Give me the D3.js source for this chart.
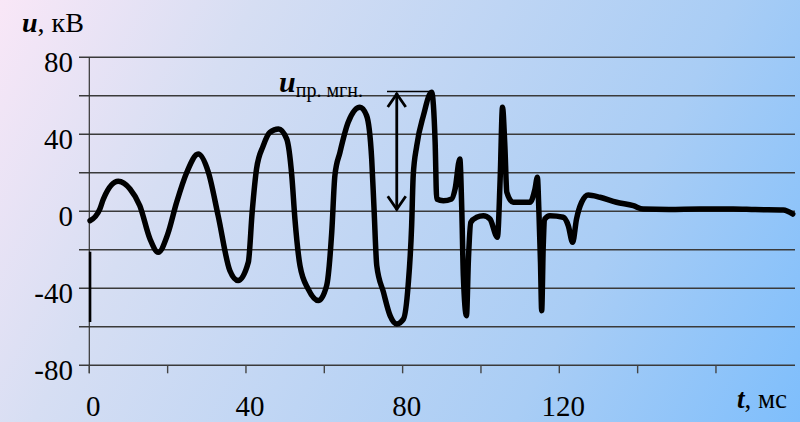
<!DOCTYPE html>
<html>
<head>
<meta charset="utf-8">
<script src="https://cdn.jsdelivr.net/npm/d3@7"></script>
<style>
  html, body { margin: 0; padding: 0; }
  svg { display: block; }
</style>
</head>
<body>
<svg id="chart" width="800" height="422" font-family="'Liberation Serif', 'Times New Roman', Tinos, 'DejaVu Serif', 'Noto Serif', serif"></svg>
<script>
// time, ms
const tValues = [0.2, 2.7, 3.6, 7.4, 10.4, 12.9, 15.5, 17.6, 20.0, 22.3, 24.9, 27.8, 30.4, 32.9, 35.9, 38.0,
  40.6, 41.6, 42.7, 44.4, 46.1, 48.3, 50.4, 51.7, 52.5, 53.8, 55.9, 58.5, 60.6, 61.9, 62.7, 64.0, 66.1,
  69.1, 70.8, 72.1, 72.7, 73.4, 75.1, 76.8, 78.5, 80.2, 81.4, 82.3, 82.7, 83.6, 85.3, 87.4, 88.3, 88.7,
  90.4, 92.5, 93.4, 94.6, 95.1, 95.5, 96.3, 96.8, 97.4, 98.9, 100.6, 102.3, 104.2, 104.9, 105.5, 106.1,
  106.6, 108.2, 112.5, 113.8, 114.4, 114.8, 115.2, 115.5, 115.9, 116.3, 117.6, 121.0, 122.3, 123.4,
  124.4, 125.7, 127.4, 130.4, 134.6, 138.9, 141.4, 148.0, 155.9, 164.4, 170.0, 177.2, 179.6];
// voltage, kV
const uValues = [-4.9, 1.2, 6.4, 15.6, 11.6, 2.9, -14.4, -21.3, -12.0, 4.7, 20.3, 29.8, 20.3, -2.3, -30.9, -36.0,
  -26.5, 0.0, 22.0, 34.0, 41.0, 42.8, 37.6, 18.5, -4.0, -28.3, -40.4, -46.4, -38.6, -10.9, 18.5, 30.6, 46.2,
  54.0, 49.7, 27.2, 1.2, -28.3, -42.0, -54.2, -58.5, -56.0, -38.6, -7.5, 18.5, 34.0, 49.7, 61.8, 35.8, 6.4,
  5.5, 6.4, 11.6, 27.2, 1.2, -33.5, -54.2, -24.8, -5.7, -3.1, -2.3, -4.0, -13.5, 16.8, 54.0, 34.0,
  9.9, 4.7, 4.7, 11.6, 17.7, -0.5, -26.5, -51.6, -17.9, -4.0, -2.3, -3.1, -7.5, -16.1,
  -4.0, 4.7, 8.5, 7.3, 4.7, 2.9, 1.2, 1.0, 1.2, 1.2, 0.9, 0.7, -1.4];
// short stray trace at the very start
const strayT = [0.2, 0.2];
const strayU = [-21, -57.5];

const yTicks = [-80, -60, -40, -20, 0, 20, 40, 60, 80];
const yLabels = [-80, -40, 0, 40, 80];
const xTicks = [0, 20, 40, 60, 80, 100, 120, 140, 160];
const xLabels = [0, 40, 80, 120];
// instantaneous breakdown voltage marker
const markT = 78.5;
const markU = 62;

const svg = d3.select('#chart');
const W = 800, H = 422;

// background gradient
const defs = svg.append('defs');
const grad = defs.append('linearGradient')
  .attr('id', 'bg')
  .attr('gradientUnits', 'userSpaceOnUse')
  .attr('x1', 0).attr('y1', 0).attr('x2', W).attr('y2', H);
[['0', '#f9e7f7'], ['0.25', '#d6def3'], ['0.72', '#a9cdf5'], ['1', '#7ebefc']].forEach(function(s) {
  grad.append('stop').attr('offset', s[0]).attr('stop-color', s[1]);
});
svg.append('rect').attr('width', W).attr('height', H).attr('fill', 'url(#bg)');

const x = d3.scaleLinear().domain([0, 180]).range([89.3, 794.3]);
const y = d3.scaleLinear().domain([-80, 80]).range([365.3, 57.3]);

// horizontal grid
svg.append('g')
  .selectAll('line')
  .data(yTicks)
  .join('line')
  .attr('x1', 79).attr('x2', 795)
  .attr('y1', d => y(d)).attr('y2', d => y(d))
  .attr('stroke', '#3a3a3a')
  .attr('stroke-width', 1.4);

// y axis line
svg.append('line')
  .attr('x1', x(0)).attr('x2', x(0))
  .attr('y1', y(80)).attr('y2', y(-80) + 8)
  .attr('stroke', '#333').attr('stroke-width', 1.2);

// x ticks
svg.append('g')
  .selectAll('line')
  .data(xTicks)
  .join('line')
  .attr('x1', d => x(d)).attr('x2', d => x(d))
  .attr('y1', y(-80)).attr('y2', y(-80) + 8)
  .attr('stroke', '#444').attr('stroke-width', 1.4);

// tick labels
svg.append('g')
  .selectAll('text')
  .data(yLabels)
  .join('text')
  .attr('x', 73)
  .attr('y', d => y(d) + 15)
  .attr('text-anchor', 'end')
  .attr('font-size', 29)
  .text(d => d);

svg.append('g')
  .selectAll('text')
  .data(xLabels)
  .join('text')
  .attr('x', d => x(d) + 4)
  .attr('y', 416)
  .attr('text-anchor', 'middle')
  .attr('font-size', 29)
  .text(d => d);

// axis titles
const yTitle = svg.append('text').attr('x', 22).attr('y', 32).attr('font-size', 28);
yTitle.append('tspan').attr('font-style', 'italic').attr('font-weight', 'bold').text('u');
yTitle.append('tspan').text(', кВ');

const xTitle = svg.append('text').attr('x', 787).attr('y', 408).attr('font-size', 27).attr('text-anchor', 'end');
xTitle.append('tspan').attr('font-style', 'italic').attr('font-weight', 'bold').text('t');
xTitle.append('tspan').text(', мс');

// voltage trace
const line = d3.line()
  .x(d => x(d[0]))
  .y(d => y(d[1]))
  .curve(d3.curveMonotoneX);

const trace = tValues.map((t, i) => [t, uValues[i]]);
svg.append('path')
  .attr('d', line(trace))
  .attr('fill', 'none')
  .attr('stroke', '#000')
  .attr('stroke-width', 5.5)
  .attr('stroke-linejoin', 'round')
  .attr('stroke-linecap', 'round');

svg.append('path')
  .attr('d', d3.line().x(d => x(d[0])).y(d => y(d[1]))(strayT.map((t, i) => [t, strayU[i]])))
  .attr('stroke', '#000')
  .attr('stroke-width', 2.5);

// annotation: double arrow and label
const ax = x(markT);
const yTop = y(markU), yBot = y(0);
const arrow = svg.append('g').attr('stroke', '#000').attr('stroke-width', 2.8).attr('fill', 'none');
arrow.append('line').attr('x1', ax).attr('x2', ax).attr('y1', yTop + 1).attr('y2', yBot - 1);
arrow.append('path').attr('d', `M${ax - 9},${yTop + 15}L${ax},${yTop + 2}L${ax + 9},${yTop + 15}`);
arrow.append('path').attr('d', `M${ax - 9},${yBot - 15}L${ax},${yBot - 2}L${ax + 9},${yBot - 15}`);

svg.append('line')
  .attr('x1', 387).attr('x2', x(87.4))
  .attr('y1', yTop - 0.5).attr('y2', yTop - 0.5)
  .attr('stroke', '#000').attr('stroke-width', 1.5);

const ann = svg.append('text').attr('x', 279).attr('y', 92);
ann.append('tspan').attr('font-style', 'italic').attr('font-weight', 'bold').attr('font-size', 30).text('u');
ann.append('tspan').attr('font-size', 20).attr('dy', 5).text('пр. мгн.');
</script>
</body>
</html>
